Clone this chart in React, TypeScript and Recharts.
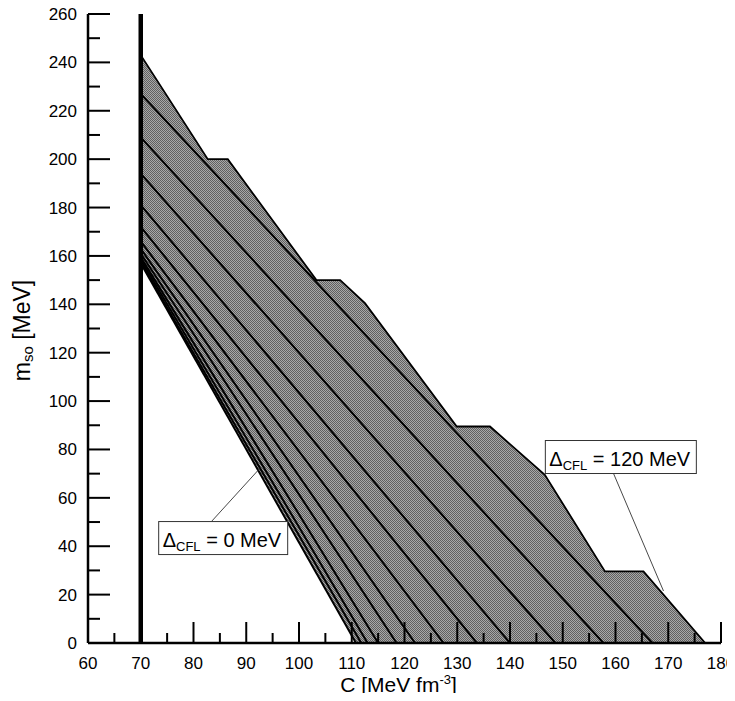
import { ComposedChart, Area, Line, XAxis, YAxis, ReferenceLine, ReferenceDot, Label } from "recharts";

// vertical cutoff at C = 70
const cutoffC = 70;

// m_s0 where each Delta curve leaves the cutoff, Delta = 120 MeV (top) ... 0 MeV (bottom)
const curveStartM = [243, 227, 209, 194, 181, 172, 166, 163, 161, 159.5, 158.5, 157.5, 157];
// C where each curve hits m_s0 = 0
const curveEndC = [177, 167, 157.7, 148.6, 140, 133.7, 127.4, 122, 118.5, 115, 113, 111.8, 110.8];

// upper edge of the shaded band (has small flat steps)
const envelopeC = [70, 82.7, 86.5, 103.3, 107.8, 112.5, 129.9, 136.2, 146.6, 158, 165.3, 177];
const envelopeM = [243, 200, 200, 150, 150, 140.5, 89.5, 89.5, 69.5, 29.6, 29.6, 0];

const xTicks = [60, 65, 70, 75, 80, 85, 90, 95, 100, 105, 110, 115, 120, 125, 130, 135, 140, 145, 150, 155, 160, 165, 170, 175, 180];
const yTicks = [0, 10, 20, 30, 40, 50, 60, 70, 80, 90, 100, 110, 120, 130, 140, 150, 160, 170, 180, 190, 200, 210, 220, 230, 240, 250, 260];

// annotation anchors (top-left of box, leader start, leader end)
const lowLabel = { text: " = 0 MeV", box: { c: 73.4, m: 50.2 }, from: { c: 83.4, m: 50.2 }, to: { c: 92.5, m: 72 } };
const highLabel = { text: " = 120 MeV", box: { c: 146.7, m: 83.7 }, from: { c: 159.6, m: 70.2 }, to: { c: 169.1, m: 21.5 } };

const envelope = envelopeC.map((c, i) => ({ c, m: envelopeM[i] }));
const curves = curveStartM.map((m0, i) => [
  { c: cutoffC, m: m0 },
  { c: curveEndC[i], m: 0 },
]);
const lowest = curves[curves.length - 1];

const FONT = "'Liberation Sans', Arial, sans-serif";

const BottomTick = (props: any) => {
  const { x, y, payload } = props;
  const v = payload.value;
  const major = v % 10 === 0;
  return (
    <g>
      <line x1={x} y1={y} x2={x} y2={y - (major ? 21 : 10)} stroke="#000" strokeWidth={2} />
      {major && (
        <text x={x} y={y + 26} textAnchor="middle" fontSize={17} fill="#000" fontFamily={FONT}>
          {v}
        </text>
      )}
    </g>
  );
};

const TopTick = (props: any) => {
  const { x, y, payload } = props;
  const major = payload.value % 10 === 0;
  return <line x1={x} y1={y} x2={x} y2={y + (major ? 21 : 10)} stroke="#000" strokeWidth={2} />;
};

const LeftTick = (props: any) => {
  const { x, y, payload } = props;
  const v = payload.value;
  const major = v % 20 === 0;
  return (
    <g>
      <line x1={x} y1={y} x2={x + (major ? 22 : 12)} y2={y} stroke="#000" strokeWidth={2} />
      {major && (
        <text x={x - 11} y={y + 6} textAnchor="end" fontSize={17} fill="#000" fontFamily={FONT}>
          {v}
        </text>
      )}
    </g>
  );
};

const RightTick = (props: any) => {
  const { x, y, payload } = props;
  const major = payload.value % 20 === 0;
  return <line x1={x} y1={y} x2={x - (major ? 22 : 12)} y2={y} stroke="#000" strokeWidth={2} />;
};

const labelBox = (text: string, width: number) => (props: any) => {
  const { cx, cy } = props;
  return (
    <g>
      <rect x={cx} y={cy} width={width} height={33} fill="#fff" stroke="#333" strokeWidth={1} />
      <text x={cx + 4} y={cy + 25} fontSize={20} fill="#000" fontFamily={FONT}>
        <tspan>Δ</tspan>
        <tspan fontSize={13} dy={4}>CFL</tspan>
        <tspan dy={-4}>{text}</tspan>
      </text>
    </g>
  );
};

const YTitle = (props: any) => {
  const { viewBox } = props;
  const cx = 22;
  const cy = viewBox.y + viewBox.height / 2 + 2;
  return (
    <text x={cx} y={cy} transform={`rotate(-90, ${cx}, ${cy})`} textAnchor="middle" dominantBaseline="central" fontSize={23} fill="#000" fontFamily={FONT}>
      <tspan>m</tspan>
      <tspan fontSize={15} dy={5}>so</tspan>
      <tspan dy={-5}> [MeV]</tspan>
    </text>
  );
};

const XTitle = (props: any) => {
  const { viewBox } = props;
  const cx = viewBox.x + viewBox.width / 2 - 6;
  const cy = viewBox.y + 49;
  return (
    <text x={cx} y={cy} textAnchor="middle" fontSize={21} fill="#000" fontFamily={FONT}>
      <tspan>C [MeV fm</tspan>
      <tspan fontSize={13} dy={-8}>-3</tspan>
      <tspan dy={8}>]</tspan>
    </text>
  );
};

export default function App() {
  return (
    <div style={{ margin: -8 }}>
      <ComposedChart width={735} height={701} margin={{ top: 14, right: 14, bottom: 0, left: 0 }} style={{ fontFamily: FONT }}>
        <defs>
          <pattern id="dither" width="2" height="2" patternUnits="userSpaceOnUse">
            <rect width="2" height="2" fill="#a8a8a8" shapeRendering="crispEdges" />
            <rect x="0" y="0" width="1" height="1" fill="#606060" shapeRendering="crispEdges" />
            <rect x="1" y="1" width="1" height="1" fill="#606060" shapeRendering="crispEdges" />
          </pattern>
        </defs>

        <Area
          data={envelope}
          dataKey="m"
          type="linear"
          fill="url(#dither)"
          fillOpacity={1}
          stroke="#000"
          strokeWidth={1.8}
          isAnimationActive={false}
          activeDot={false}
        />
        <Area data={lowest} dataKey="m" type="linear" fill="#fff" fillOpacity={1} stroke="none" isAnimationActive={false} activeDot={false} />

        {curves.slice(1).map((pts, i) => (
          <Line
            key={i}
            data={pts}
            dataKey="m"
            type="linear"
            stroke="#000"
            strokeWidth={2}
            dot={false}
            activeDot={false}
            isAnimationActive={false}
          />
        ))}

        <XAxis
          dataKey="c"
          type="number"
          domain={[60, 180]}
          ticks={xTicks}
          interval={0}
          allowDataOverflow
          height={58}
          tickSize={0}
          tickMargin={0}
          tickLine={false}
          axisLine={{ stroke: "#000", strokeWidth: 2.5 }}
          tick={<BottomTick />}
        >
          <Label content={<XTitle />} />
        </XAxis>
        <XAxis
          xAxisId="top"
          orientation="top"
          dataKey="c"
          type="number"
          domain={[60, 180]}
          ticks={xTicks}
          interval={0}
          allowDataOverflow
          height={0}
          tickSize={0}
          tickMargin={0}
          tickLine={false}
          axisLine={{ stroke: "#000", strokeWidth: 2.5 }}
          tick={<TopTick />}
        />
        <YAxis
          type="number"
          domain={[0, 260]}
          ticks={yTicks}
          interval={0}
          allowDataOverflow
          width={88}
          tickSize={0}
          tickMargin={0}
          tickLine={false}
          axisLine={{ stroke: "#000", strokeWidth: 2.5 }}
          tick={<LeftTick />}
        >
          <Label content={<YTitle />} />
        </YAxis>
        <YAxis
          yAxisId="right"
          orientation="right"
          type="number"
          domain={[0, 260]}
          ticks={yTicks}
          interval={0}
          allowDataOverflow
          width={0}
          tickSize={0}
          tickMargin={0}
          tickLine={false}
          axisLine={{ stroke: "#000", strokeWidth: 2.5 }}
          tick={<RightTick />}
        />

        <ReferenceLine x={cutoffC} stroke="#000" strokeWidth={4.5} />

        <ReferenceLine segment={[{ x: lowLabel.from.c, y: lowLabel.from.m }, { x: lowLabel.to.c, y: lowLabel.to.m }]} stroke="#333" strokeWidth={0.9} />
        <ReferenceLine segment={[{ x: highLabel.from.c, y: highLabel.from.m }, { x: highLabel.to.c, y: highLabel.to.m }]} stroke="#333" strokeWidth={0.9} />
        <ReferenceDot x={lowLabel.box.c} y={lowLabel.box.m} r={0} shape={labelBox(lowLabel.text, 129)} />
        <ReferenceDot x={highLabel.box.c} y={highLabel.box.m} r={0} shape={labelBox(highLabel.text, 151)} />
      </ComposedChart>
    </div>
  );
}
